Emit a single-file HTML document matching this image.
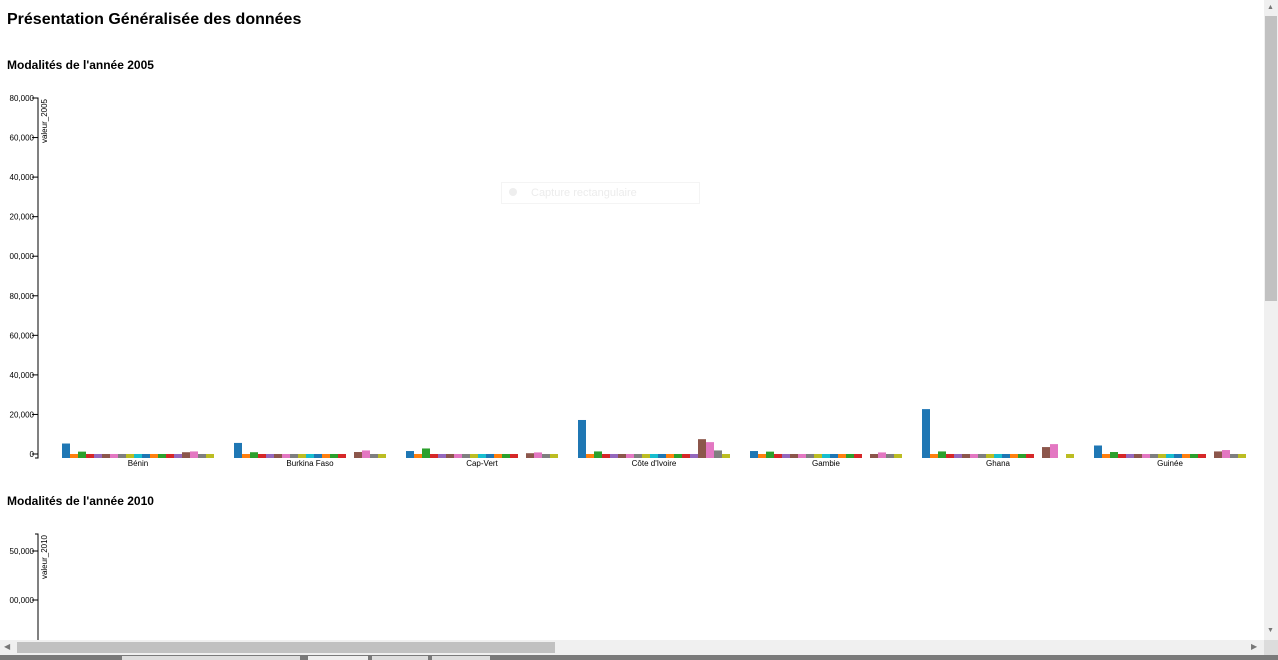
<!DOCTYPE html>
<html><head><meta charset="utf-8">
<style>
html,body{margin:0;padding:0;width:1278px;height:660px;overflow:hidden;background:#fff;font-family:"Liberation Sans",sans-serif;}
h1{position:absolute;left:7px;top:11px;margin:0;font-size:16px;font-weight:bold;color:#000;}
h2{position:absolute;left:7px;margin:0;font-size:12px;font-weight:bold;color:#000;}
svg text{font-family:"Liberation Sans",sans-serif;}
</style></head>
<body>
<h1>Présentation Généralisée des données</h1>
<h2 style="top:58px">Modalités de l'année 2005</h2>
<h2 style="top:494px">Modalités de l'année 2010</h2>
<svg id="chart1" width="1264" height="640" style="position:absolute;left:0;top:0"></svg>
<div style="position:absolute;left:501px;top:182px;width:197px;height:20px;border:1px solid #f4f4f4;background:rgba(255,255,255,0.6);color:#ececec;font-size:11px;line-height:20px">
<span style="display:inline-block;width:8px;height:8px;border-radius:4px;background:#eee;margin:0 14px 0 7px"></span>Capture rectangulaire</div>
<div style="position:absolute;left:1264px;top:0;width:14px;height:640px;background:#f0f0f0">
<div style="position:absolute;left:1px;top:16px;width:12px;height:285px;background:#c1c1c1"></div>
<div style="position:absolute;left:3px;top:4px;font-size:7px;color:#777">▲</div>
<div style="position:absolute;left:3px;top:627px;font-size:7px;color:#777">▼</div></div>
<div style="position:absolute;left:0;top:640px;width:1264px;height:15px;background:#f0f0f0">
<div style="position:absolute;left:17px;top:2px;width:538px;height:11px;background:#c1c1c1"></div>
<div style="position:absolute;left:4px;top:2px;font-size:8px;color:#777">◀</div>
<div style="position:absolute;left:1251px;top:2px;font-size:8px;color:#777">▶</div></div>
<div style="position:absolute;left:1264px;top:640px;width:14px;height:15px;background:#dcdcdc"></div>
<div style="position:absolute;left:0;top:655px;width:1278px;height:5px;background:#7a7a7a">
<div style="position:absolute;left:122px;top:1px;width:178px;height:4px;background:#ddd"></div>
<div style="position:absolute;left:308px;top:1px;width:60px;height:4px;background:#eee"></div>
<div style="position:absolute;left:372px;top:1px;width:56px;height:4px;background:#ddd"></div>
<div style="position:absolute;left:432px;top:1px;width:58px;height:4px;background:#ddd"></div></div>
<script>
const countries=["Bénin","Burkina Faso","Cap-Vert","Côte d'Ivoire","Gambie","Ghana","Guinée"];
const values2005=[
[5300,0,1200,0,0,0,0,0,0,0,0,0,0,0,0,900,1300,-600,0],
[5600,0,900,0,0,0,0,0,0,0,0,0,0,0,null,1000,1800,-500,-500],
[1500,0,2800,0,0,0,0,0,0,0,0,0,0,0,null,400,800,-300,0],
[17200,0,1300,0,0,0,0,0,0,0,0,0,0,0,0,7500,6000,1800,0],
[1500,0,1200,0,0,0,0,0,0,0,0,0,0,0,null,0,800,-300,0],
[22700,0,1300,0,0,0,0,0,0,0,0,0,0,0,null,3500,5000,null,-600],
[4300,0,1000,0,0,0,0,0,0,0,0,0,0,0,null,1300,2000,-500,0]];
const ticks2005=[0,20000,40000,60000,80000,100000,120000,140000,160000,180000];
const ticks2010=[100000,150000];
const colors=["#1f77b4","#ff7f0e","#2ca02c","#d62728","#9467bd","#8c564b","#e377c2","#7f7f7f","#bcbd22","#17becf"];
const NS="http://www.w3.org/2000/svg";
const svg=document.getElementById('chart1');
function mk(t,a,p){const e=document.createElementNS(NS,t);for(const k in a)e.setAttribute(k,a[k]);(p||svg).appendChild(e);return e;}
const fmt=v=>v.toLocaleString('en-US');
const y1=v=>454-v*(356/180000);
const x1=(c,i)=>62+c*172+i*8;
const clip=mk('clipPath',{id:'cl'});mk('rect',{x:9.5,y:0,width:1260,height:640},clip);
const g=mk('g',{'clip-path':'url(#cl)'});
const ax=mk('path',{d:'M35,'+y1(180000)+'H38V458H35',stroke:'#000',fill:'none'},g);


ticks2005.forEach(v=>{
 mk('line',{x1:32,x2:38,y1:y1(v),y2:y1(v),stroke:'#000'},g);
 const t=mk('text',{x:34,y:y1(v)+3,'text-anchor':'end','font-size':'8'},g);t.textContent=fmt(v);
 
 
});
const yt=mk('text',{transform:'translate(47,99) rotate(-90)','text-anchor':'end','font-size':'8'},g);yt.textContent='valeur_2005';


values2005.forEach((row,c)=>{
 row.forEach((v,i)=>{
  if(v===null)return;
  const top=Math.min(y1(v),454), bot=458;
  const r=mk('rect',{x:x1(c,i),y:top,width:8,height:Math.max(bot-top,1),fill:colors[i%10]},g);
  
  
 });
 const t=mk('text',{x:x1(c,0)+76,y:466,'text-anchor':'middle','font-size':'8'},g);t.textContent=countries[c];
 
 
});
const y2=v=>600-(v-100000)*(49/50000);
const ax2=mk('path',{d:'M35,534H38V640',stroke:'#000',fill:'none'},g);


ticks2010.forEach(v=>{
 mk('line',{x1:32,x2:38,y1:y2(v),y2:y2(v),stroke:'#000'},g);
 const t=mk('text',{x:34,y:y2(v)+3,'text-anchor':'end','font-size':'8'},g);t.textContent=fmt(v);
 
 
});
const yt2=mk('text',{transform:'translate(47,535) rotate(-90)','text-anchor':'end','font-size':'8'},g);yt2.textContent='valeur_2010';


</script>
</body></html>
